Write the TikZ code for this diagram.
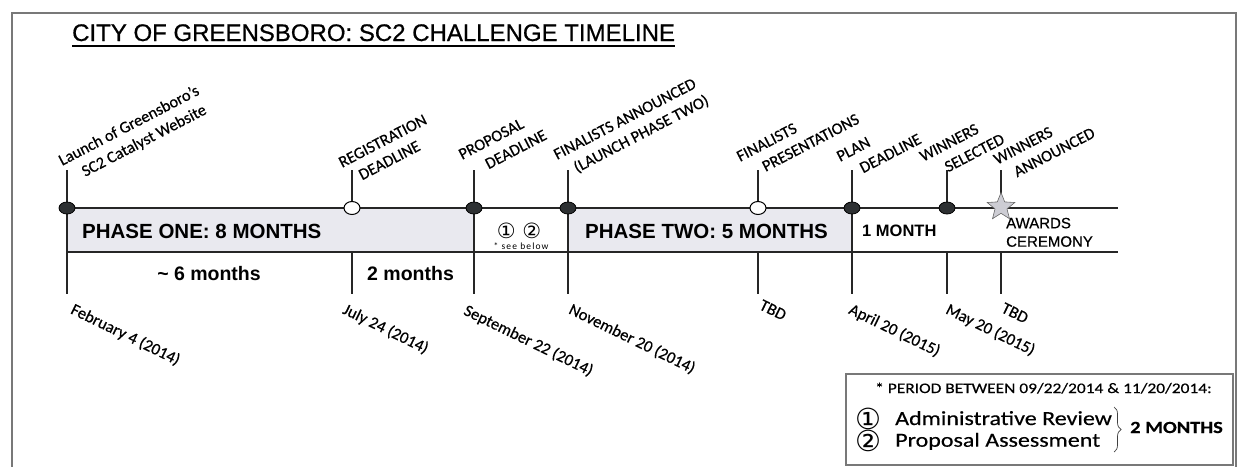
\documentclass[tikz,border=0pt]{standalone}
\usepackage{fontspec}
\setmainfont{Carlito}
\newfontfamily\labelCal[FakeBold=0.5]{Carlito}
\newfontfamily\arialf{Liberation Sans}
\newfontfamily\titlef[FakeBold=0.7]{Liberation Sans}
\newfontfamily\awardf[FakeBold=0.5]{Liberation Sans}
\newfontfamily\symf{DejaVu Sans}
\newfontfamily\wideCal[FakeStretch=1.2,FakeBold=0.4]{Carlito}
\newfontfamily\spacedCal[LetterSpace=12]{Carlito}
\usetikzlibrary{shapes.geometric,decorations.pathreplacing,calc}
\definecolor{bandc}{RGB}{233,233,239}
\definecolor{framec}{RGB}{120,120,120}
\definecolor{dotc}{RGB}{45,48,50}
\definecolor{starfill}{RGB}{205,205,212}
\newcommand\mylblfont{\labelCal\fontsize{16.3}{20}\selectfont}
\newcommand\mydatefont{\labelCal\fontsize{16.5}{20}\selectfont}
\begin{document}
\begin{tikzpicture}[x=1pt,y=-1pt,
  tl/.style={line width=1.3pt, black!85},
  lbl/.style={font=\mylblfont, rotate=27.5, anchor=base west, inner sep=0pt},
  datelbl/.style={font=\mydatefont, rotate=-26, anchor=north west, inner sep=0pt},
  dotfill/.style={ellipse, draw=black, fill=dotc, line width=0.8pt, minimum width=16pt, minimum height=12pt, inner sep=0pt},
  dotopen/.style={ellipse, draw=black, fill=white, line width=1pt, minimum width=16pt, minimum height=13pt, inner sep=0pt},
  phase/.style={font=\arialf\bfseries\fontsize{20.5}{24}\selectfont, anchor=base west, inner sep=0pt},
  spantxt/.style={font=\arialf\bfseries\fontsize{19.5}{23}\selectfont, inner sep=0pt},
  notetxt/.style={font=\wideCal\fontsize{20}{24}\selectfont, anchor=base west, inner sep=0pt},
  circnum/.style={font=\symf\fontsize{29}{32}\selectfont, inner sep=0pt}
]
\useasboundingbox (0,0) rectangle (1238,466);
\begin{scope}
\clip (0,0) rectangle (1238,466);
\draw[framec, line width=2.5pt] (12,13) rectangle (1236,480);
\end{scope}

% title
\node[font=\titlef\fontsize{24}{28}\selectfont, anchor=base west, inner sep=0pt] (title) at (72,41) {CITY OF GREENSBORO: SC2 CHALLENGE TIMELINE};
\draw[line width=1.4pt] ($(title.base west)+(0,5)$) -- ($(title.base east)+(0,5)$);

% band fills
\fill[bandc] (67,208) rectangle (474,252);
\fill[bandc] (568,208) rectangle (852,252);

% coordinates
\foreach \n/\x in {1/67,2/352,3/474,4/568,5/758,6/852,7/947,8/1001} {
  \coordinate (top\n) at (\x,170);
  \coordinate (up\n) at (\x,208);
  \coordinate (lo\n) at (\x,252);
  \coordinate (bot\n) at (\x,294);
}
\coordinate (lineend) at (1118,208);
\coordinate (lowend) at (1118,252);
\draw[tl] (up1) -- (lineend);
\draw[tl] (lo1) -- (lowend);
\foreach \n in {1,3,4,6} \draw[tl] (top\n) -- (bot\n);
\foreach \n in {2,5,7,8} { \draw[tl] (top\n) -- (up\n); \draw[tl] (lo\n) -- (bot\n); }

% markers
\node[dotfill] (m1) at (up1) {};
\node[dotopen] (m2) at (up2) {};
\node[dotfill] (m3) at (up3) {};
\node[dotfill] (m4) at (up4) {};
\node[dotopen] (m5) at (up5) {};
\node[dotfill] (m6) at (up6) {};
\node[dotfill] (m7) at (up7) {};
\node[star, star points=5, star point ratio=2.3, draw=gray!80!black, fill=starfill, line width=0.6pt, minimum size=29pt, inner sep=0pt] (m8) at (1001,207) {};

% upper labels
\node[lbl] (l1a) at (62,166) {Launch of Greensboro’s};
\node[lbl] (l1b) at (85,177) {SC2 Catalyst Website};
\node[lbl] (l2a) at (342,168) {REGISTRATION};
\node[lbl] (l2b) at (362,180.5) {DEADLINE};
\node[lbl] (l3a) at (462,160) {PROPOSAL};
\node[lbl] (l3b) at (488.5,169.5) {DEADLINE};
\node[lbl] (l4a) at (557,160) {FINALISTS ANNOUNCED};
\node[lbl] (l4b) at (577,173) {(LAUNCH PHASE TWO)};
\node[lbl] (l5a) at (740,162) {FINALISTS};
\node[lbl] (l5b) at (765.5,172) {PRESENTATIONS};
\node[lbl] (l6a) at (840,162) {PLAN};
\node[lbl] (l6b) at (863,173.5) {DEADLINE};
\node[lbl] (l7a) at (923,162) {WINNERS};
\node[lbl] (l7b) at (948,172.5) {SELECTED};
\node[lbl] (l8a) at (997,165) {WINNERS};
\node[lbl] (l8b) at (1017,177.5) {ANNOUNCED};

% dates
\node[datelbl] (d1) at (75,302) {February 4 (2014)};
\node[datelbl] (d2) at (347,302) {July 24 (2014)};
\node[datelbl] (d3) at (468,303) {September 22 (2014)};
\node[datelbl] (d4) at (573,302) {November 20 (2014)};
\node[datelbl] (d5) at (763,299) {TBD};
\node[datelbl] (d6) at (853,302) {April 20 (2015)};
\node[datelbl] (d7) at (950,302) {May 20 (2015)};
\node[datelbl] (d8) at (1005,302) {TBD};

% band texts
\node[phase] (p1) at (82,238.5) {PHASE ONE: 8 MONTHS};
\node[phase] (p2) at (585,238.5) {PHASE TWO: 5 MONTHS};
\node[font=\arialf\bfseries\fontsize{16.5}{20}\selectfont, anchor=base west, inner sep=0pt] (p3) at (862,236.7) {1 MONTH};
\node[font=\awardf\fontsize{15}{18}\selectfont, anchor=base west, inner sep=0pt] (aw1) at (1006,228.3) {AWARDS};
\node[font=\awardf\fontsize{15}{18}\selectfont, anchor=base west, inner sep=0pt] (aw2) at (1006,246.7) {CEREMONY};
\node[font=\symf\fontsize{21}{24}\selectfont, inner sep=0pt] (c12) at (519,231) {① ②};
\node[font=\spacedCal\fontsize{9.5}{11}\selectfont, inner sep=0pt] (see) at (521,246) {* see below};

% span texts
\node[spantxt, anchor=base] (s1) at (209,280) {\textasciitilde\ 6 months};
\node[spantxt, anchor=base west] (s2) at (367,280) {2 months};

% note box
\node[draw=framec, line width=1.8pt, minimum width=387pt, minimum height=91pt, anchor=north west, inner sep=0pt] (note) at (845,373) {};
\node[font=\wideCal\fontsize{14.5}{17}\selectfont, anchor=base west, inner sep=0pt] (n1) at (875,393) {* PERIOD BETWEEN 09/22/2014 \& 11/20/2014:};
\node[circnum] (c1) at (868,419) {①};
\node[notetxt] (n2) at (895,425) {Administrative Review};
\node[circnum] (c2) at (868,441) {②};
\node[notetxt] (n3) at (895,446.7) {Proposal Assessment};
\coordinate (brtop) at (1114,407);
\coordinate (brbot) at (1114,452);
\draw[decorate, decoration={brace, amplitude=7pt}, line width=0.7pt, black!75] (brtop) -- (brbot);
\node[font=\wideCal\bfseries\fontsize{17}{20}\selectfont, anchor=base west, inner sep=0pt] (n4) at (1130,433) {2 MONTHS};
\end{tikzpicture}
\end{document}
